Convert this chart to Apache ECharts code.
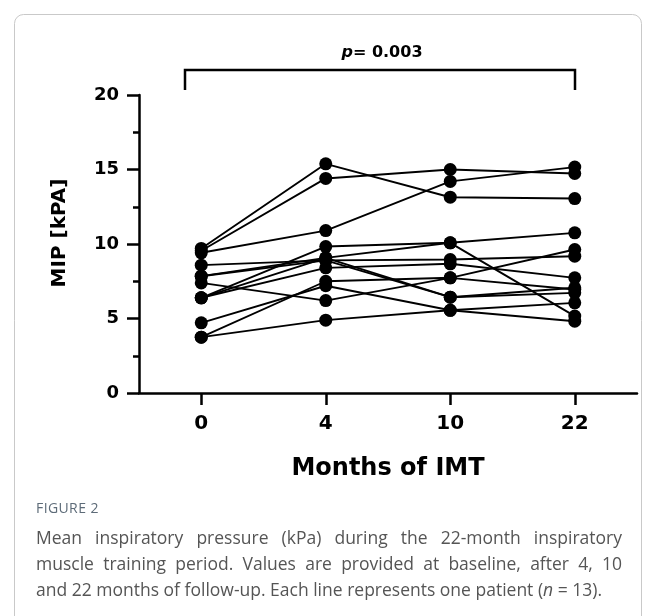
<!DOCTYPE html>
<html>
<head>
<meta charset="utf-8">
<script src="https://cdn.jsdelivr.net/npm/echarts@6/dist/echarts.min.js"></script>
<style>
  html, body { margin:0; padding:0; background:#fff; }
  #chart { position:absolute; left:0; top:0; width:655px; height:616px; }
  #caption { position:absolute; left:36px; top:498px; width:586px; font-family:'Open Sans', sans-serif; color:#555; }
  .fig { font-size:14px; line-height:20px; color:#5d6b78; letter-spacing:0.4px; }
  .ln { font-size:17.5px; line-height:26px; white-space:nowrap; }
  .j { text-align:justify; text-align-last:justify; white-space:normal; }
  #lines { margin-top:6px; }
</style>
</head>
<body>
<div id="chart"></div>
<div id="caption">
  <div class="fig">FIGURE 2</div>
  <div id="lines">
    <div class="ln j">Mean inspiratory pressure (kPa) during the 22-month inspiratory</div>
    <div class="ln j">muscle training period. Values are provided at baseline, after 4, 10</div>
    <div class="ln">and 22 months of follow-up. Each line represents one patient (<i>n</i> = 13).</div>
  </div>
</div>
<script>
// Time points (months of IMT)
const categories = ['0', '4', '10', '22'];
const yTicks = [0, 5, 10, 15, 20];

// MIP [kPa] per patient at 0, 4, 10, 22 months
const patient1  = [9.70, 15.38, 13.14, 13.05];
const patient2  = [9.55, 14.40, 15.00, 14.73];
const patient3  = [9.41, 10.90, 14.20, 15.16];
const patient4  = [6.39,  9.83, 10.08, 10.75];
const patient5  = [7.84,  9.07, 10.08,  5.16];
const patient6  = [8.58,  8.90,  8.96,  9.18];
const patient7  = [3.75,  7.50,  7.73,  6.95];
const patient8  = [3.75,  4.89,  5.55,  6.05];
const patient9  = [4.71,  7.20,  5.55,  4.82];
const patient10 = [7.39,  6.20,  7.73,  9.63];
const patient11 = [6.39,  8.40,  8.67,  7.73];
const patient12 = [7.84,  8.90,  6.43,  7.06];
const patient13 = [6.39,  9.07,  6.43,  6.72];

const patients = [patient1, patient2, patient3, patient4, patient5, patient6, patient7,
                  patient8, patient9, patient10, patient11, patient12, patient13];

const pValueText = '= 0.003';

const chart = echarts.init(document.getElementById('chart'), null, { renderer: 'canvas' });
const boldFont = 'DejaVu Sans';

const series = patients.map((p, i) => ({
  name: 'Patient ' + (i + 1),
  type: 'line',
  data: p,
  symbol: 'circle',
  symbolSize: 13,
  showSymbol: true,
  lineStyle: { color: '#000', width: 1.9 },
  itemStyle: { color: '#000' },
  emphasis: { disabled: true },
  animation: false
}));

chart.setOption({
  animation: false,
  backgroundColor: '#fff',
  grid: { left: 139, right: 18, top: 95, bottom: 223, containLabel: false },
  xAxis: {
    type: 'category',
    data: categories,
    boundaryGap: true,
    axisLine: { show: true, lineStyle: { color: '#000', width: 2.5 } },
    axisTick: { show: true, alignWithLabel: true, length: 12, lineStyle: { color: '#000', width: 2.5 } },
    axisLabel: { margin: 21, color: '#000', fontFamily: boldFont, fontWeight: 'bold', fontSize: 20 },
    splitLine: { show: false },
    name: 'Months of IMT',
    nameLocation: 'middle',
    nameGap: 76,
    nameTextStyle: { color: '#000', fontFamily: boldFont, fontWeight: 'bold', fontSize: 24, verticalAlign: 'middle' }
  },
  yAxis: {
    type: 'value',
    min: yTicks[0],
    max: yTicks[yTicks.length - 1],
    interval: 5,
    axisLine: { show: true, lineStyle: { color: '#000', width: 2.5 } },
    axisTick: { show: true, length: 12, lineStyle: { color: '#000', width: 2.5 } },
    minorTick: { show: true, splitNumber: 2, length: 6, lineStyle: { color: '#000', width: 2.5 } },
    axisLabel: { margin: 20, color: '#000', fontFamily: boldFont, fontWeight: 'bold', fontSize: 18 },
    splitLine: { show: false },
    minorSplitLine: { show: false }
  },
  graphic: [
    {
      type: 'rect',
      shape: { x: 14.5, y: 14.5, width: 627, height: 640, r: 9 },
      style: { fill: 'none', stroke: '#c9c9c9', lineWidth: 1 },
      silent: true, z: -10
    },
    {
      type: 'text',
      x: 60, y: 233,
      rotation: Math.PI / 2,
      style: {
        text: 'MIP [kPA]',
        fill: '#000',
        font: 'bold 20px "DejaVu Sans"',
        align: 'center', verticalAlign: 'middle'
      }
    },
    {
      type: 'polyline',
      shape: { points: [[185, 90], [185, 70], [575, 70], [575, 90]] },
      style: { stroke: '#000', lineWidth: 2.5, fill: 'none' }
    },
    {
      type: 'text',
      x: 382, y: 53,
      style: {
        text: '{i|p}{b|' + pValueText + '}',
        align: 'center', verticalAlign: 'middle',
        rich: {
          i: { fontFamily: boldFont, fontWeight: 'bold', fontStyle: 'italic', fontSize: 16, fill: '#000' },
          b: { fontFamily: boldFont, fontWeight: 'bold', fontSize: 16, fill: '#000' }
        }
      }
    }
  ],
  series: series
});
</script>
</body>
</html>
